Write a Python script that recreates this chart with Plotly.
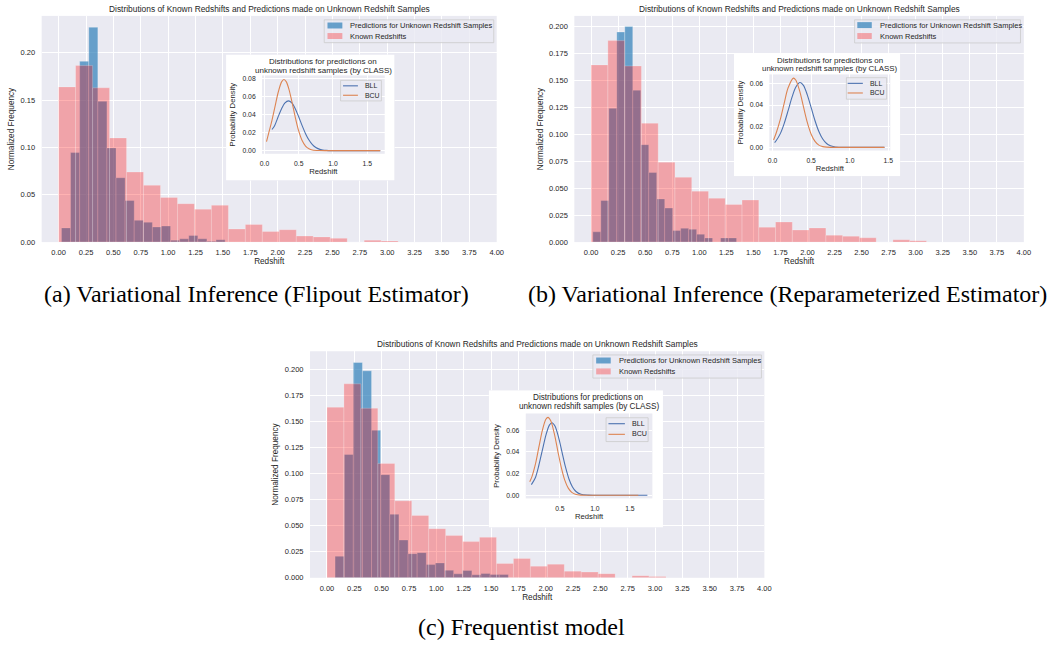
import plotly.graph_objects as go

W, H = 1048, 649
FONT = "Liberation Sans, Arial, sans-serif"
SERIF = "Liberation Serif, Times New Roman, serif"
TXT = "#262626"
BG = "#EAEAF2"

# ---------------- data ----------------
REDSHIFT_TICKS = [0.0, 0.25, 0.5, 0.75, 1.0, 1.25, 1.5, 1.75, 2.0, 2.25,
                  2.5, 2.75, 3.0, 3.25, 3.5, 3.75, 4.0]
INSET_X_TICKS = [0.0, 0.5, 1.0, 1.5]

KNOWN_BIN_START = 0.0
KNOWN_BIN_WIDTH = 0.155
KNOWN_FREQ = [0.164, 0.1865, 0.163, 0.110, 0.074, 0.060, 0.0472, 0.0406, 0.0348, 0.0389,
              0.0138, 0.0186, 0.0112, 0.0131, 0.0064, 0.0055, 0.0040, 0.0, 0.0021, 0.0013]

PRED_A_BIN_START = 0.026
PRED_A_BIN_WIDTH = 0.083
PRED_A_FREQ = [0.015, 0.0946, 0.191, 0.227, 0.1487, 0.0995, 0.068, 0.044, 0.023, 0.021,
               0.016, 0.017, 0.0021, 0.0035, 0.007, 0.0035, 0.001, 0.0024, 0.0, 0.0]

PRED_B_BIN_START = 0.016
PRED_B_BIN_WIDTH = 0.0738
PRED_B_FREQ = [0.0095, 0.0385, 0.1238, 0.1945, 0.1995, 0.1406, 0.0902, 0.0645, 0.040, 0.0315,
               0.0107, 0.0128, 0.0119, 0.0073, 0.0039, 0.0, 0.0039, 0.0039, 0.0, 0.0]

PRED_C_BIN_START = 0.074
PRED_C_BIN_WIDTH = 0.0834
PRED_C_FREQ = [0.0207, 0.1186, 0.207, 0.199, 0.1419, 0.0992, 0.0611, 0.0363, 0.0232, 0.0242,
               0.0127, 0.0143, 0.0073, 0.0038, 0.007, 0.0029, 0.0041, 0.0031, 0.0031, 0.0]

BLL_A_X = [0.11, 0.15, 0.20, 0.25, 0.30, 0.35, 0.40, 0.45, 0.50, 0.55, 0.60, 0.65, 0.70,
           0.75, 0.80, 0.85, 0.90, 1.00, 1.20, 1.45, 1.69]
BLL_A_Y = [0.0235, 0.0280, 0.0376, 0.0466, 0.0530, 0.0553, 0.0530, 0.0466, 0.0376, 0.0278,
           0.0189, 0.0118, 0.0067, 0.0035, 0.0017, 0.0008, 0.0003, 0.0, 0.0, 0.0, 0.0]
BCU_A_X = [0.03, 0.06, 0.10, 0.15, 0.20, 0.25, 0.285, 0.32, 0.36, 0.40, 0.45, 0.50, 0.55,
           0.60, 0.65, 0.70, 0.80, 0.90, 1.10, 1.40, 1.69]
BCU_A_Y = [0.0100, 0.0190, 0.0305, 0.0476, 0.0646, 0.0764, 0.0790, 0.0764, 0.0676, 0.0547,
           0.0371, 0.0219, 0.0112, 0.0050, 0.0020, 0.0007, 0.0001, 0.0, 0.0, 0.0, 0.0]

BLL_B_X = [0.026, 0.05, 0.10, 0.15, 0.20, 0.25, 0.30, 0.356, 0.40, 0.45, 0.50, 0.55, 0.60,
           0.65, 0.70, 0.75, 0.80, 0.90, 1.00, 1.20, 1.45]
BLL_B_Y = [0.0044, 0.0067, 0.0130, 0.0225, 0.0345, 0.0470, 0.0569, 0.0613, 0.0586, 0.0497,
           0.0376, 0.0252, 0.0150, 0.0079, 0.0037, 0.0016, 0.0006, 0.0001, 0.0, 0.0, 0.0]
BCU_B_X = [0.013, 0.05, 0.10, 0.15, 0.20, 0.27, 0.30, 0.35, 0.40, 0.45, 0.50, 0.55, 0.60,
           0.65, 0.70, 0.80, 0.90, 1.10, 1.45]
BCU_B_Y = [0.0070, 0.0143, 0.0264, 0.0417, 0.0561, 0.0655, 0.0637, 0.0536, 0.0385, 0.0236,
           0.0124, 0.0056, 0.0021, 0.0007, 0.0002, 0.0, 0.0, 0.0, 0.0]

BLL_C_X = [0.093, 0.15, 0.20, 0.25, 0.30, 0.35, 0.387, 0.43, 0.48, 0.53, 0.58, 0.63, 0.68,
           0.73, 0.80, 0.90, 1.00, 1.20, 1.50, 1.75]
BLL_C_Y = [0.0098, 0.0162, 0.0277, 0.0417, 0.0554, 0.0648, 0.0671, 0.0640, 0.0539, 0.0400,
           0.0261, 0.0150, 0.0076, 0.0034, 0.0009, 0.0001, 0.0, 0.0, 0.0, 0.0]
BCU_C_X = [0.07, 0.10, 0.15, 0.20, 0.25, 0.30, 0.33, 0.37, 0.42, 0.47, 0.52, 0.57, 0.62,
           0.67, 0.72, 0.80, 0.90, 1.10, 1.40, 1.62]
BCU_C_Y = [0.0125, 0.0170, 0.0285, 0.0444, 0.0600, 0.0702, 0.0720, 0.0688, 0.0571, 0.0411,
           0.0257, 0.0139, 0.0065, 0.0026, 0.0009, 0.0001, 0.0, 0.0, 0.0, 0.0]

MAIN_TITLE = "Distributions of Known Redshifts and Predictions made on Unknown Redshift Samples"
INSET_TITLE_1 = "Distributions for predictions on"
INSET_TITLE_2 = "unknown redshift samples (by CLASS)"
PRED_NAME = "Predictions for Unknown Redshift Samples"
KNOWN_NAME = "Known Redshifts"
CAPTIONS = ["(a) Variational Inference (Flipout Estimator)",
            "(b) Variational Inference (Reparameterized Estimator)",
            "(c) Frequentist model"]

BLUE_BAR = "rgba(31,119,180,0.65)"
PINK_BAR = "rgba(255,0,0,0.30)"
BLL_COLOR = "#4C72B0"
BCU_COLOR = "#DD8452"

# ---------------- layout geometry (pixels) ----------------
PANELS = [
    dict(main=(40, 499, 16, 244), yrange=[0, 0.239], ydtick=0.05, yfmt=".2f",
         pred=(PRED_A_BIN_START, PRED_A_BIN_WIDTH, PRED_A_FREQ),
         box=(226, 396, 55, 182), inset=(262.3, 386, 76, 155),
         ixr=[-0.035, 1.755], iyr=[-0.0035, 0.0836], iyticks=[0, 0.02, 0.04, 0.06, 0.08],
         curves=((BLL_A_X, BLL_A_Y), (BCU_A_X, BCU_A_Y)),
         title=(269.5, 9), ititle=(324, 62.3, 70.7, 8.0),
         leg=dict(box=(325, 496, 20, 43), patch=(328.3, 343.3), tx=349, ys=(25.7, 36.3)),
         ileg=dict(box=(341.5, 382.7, 81, 101.7), line=(344, 359), tx=364, ys=(86.5, 96), fs=6.9),
         caption=(257, 296)),
    dict(main=(577.3, 1030.7, 16, 244), yrange=[0, 0.2094], ydtick=0.025, yfmt=".3f",
         pred=(PRED_B_BIN_START, PRED_B_BIN_WIDTH, PRED_B_FREQ),
         box=(738.3, 906, 53.3, 177.7), inset=(774, 896, 75, 151.7),
         ixr=[-0.042, 1.526], iyr=[-0.003, 0.069], iyticks=[0, 0.02, 0.04, 0.06],
         curves=((BLL_B_X, BLL_B_Y), (BCU_B_X, BCU_B_Y)),
         title=(804, 9), ititle=(835, 61, 69.3, 7.9),
         leg=dict(box=(860, 1027.3, 20, 43.3), patch=(862.7, 877.3), tx=883.3, ys=(25.3, 36.3)),
         ileg=dict(box=(851.7, 892.3, 78.3, 100), line=(853, 868.3), tx=873.3, ys=(84, 93.7), fs=6.9),
         caption=(792, 296)),
    dict(main=(310.7, 769, 354, 582.3), yrange=[0, 0.2178], ydtick=0.025, yfmt=".3f",
         pred=(PRED_C_BIN_START, PRED_C_BIN_WIDTH, PRED_C_FREQ),
         box=(491, 666.7, 393.3, 531.7), inset=(528.3, 656, 416.7, 502.3),
         ixr=[0.013, 1.821], iyr=[-0.003, 0.0756], iyticks=[0, 0.02, 0.04, 0.06],
         curves=((BLL_C_X, BLL_C_Y), (BCU_C_X, BCU_C_Y)),
         title=(540, 347), ititle=(592, 401, 410, 8.2),
         leg=dict(box=(596, 766, 357.7, 381), patch=(599.3, 614), tx=620, ys=(363.3, 374.3)),
         ileg=dict(box=(609.3, 651.7, 421, 445), line=(611.7, 628.3), tx=633.3, ys=(427, 437.7), fs=7.1),
         caption=(524.5, 632)),
]


def fx(p):
    return p / W


def fy(p):
    return 1 - p / H


def ax_key(kind, n):
    return kind + ("axis" if n == 1 else "axis%d" % n)


def ref(kind, n):
    return kind if n == 1 else "%s%d" % (kind, n)


fig = go.Figure()
layout = {}
shapes = []
annotations = []


def add_text(text, x, y, size, color=TXT, family=FONT, xanchor="center"):
    annotations.append(dict(text=text, x=fx(x), y=fy(y), xref="paper", yref="paper",
                            showarrow=False, xanchor=xanchor, yanchor="middle",
                            font=dict(family=family, size=size, color=color)))


def rect(x0, x1, y0, y1, fill, line_color=None, line_width=0):
    shapes.append(dict(type="rect", xref="paper", yref="paper", layer="above",
                       x0=fx(x0), x1=fx(x1), y0=fy(y1), y1=fy(y0), fillcolor=fill,
                       line=dict(color=line_color or "rgba(0,0,0,0)", width=line_width)))


# main panels first, then white boxes, then insets (drawing order)
for i, P in enumerate(PANELS, start=1):
    L, R, T, B = P["main"]
    start, width, freq = P["pred"]
    pred_left = [start + k * width for k in range(len(freq))]
    known_left = [KNOWN_BIN_START + k * KNOWN_BIN_WIDTH for k in range(len(KNOWN_FREQ))]
    fig.add_trace(go.Bar(x=pred_left, y=freq, width=[width] * len(freq), offset=0,
                         name=PRED_NAME, marker=dict(color=BLUE_BAR,
                                                     line=dict(color="rgba(255,255,255,0.45)", width=0.6)),
                         xaxis=ref("x", i), yaxis=ref("y", i), showlegend=False))
    fig.add_trace(go.Bar(x=known_left, y=KNOWN_FREQ, width=[KNOWN_BIN_WIDTH] * len(KNOWN_FREQ), offset=0,
                         name=KNOWN_NAME, marker=dict(color=PINK_BAR,
                                                      line=dict(color="rgba(255,255,255,0.35)", width=0.6)),
                         xaxis=ref("x", i), yaxis=ref("y", i), showlegend=False))
    layout[ax_key("x", i)] = dict(
        domain=[fx(L), fx(R)], anchor=ref("y", i), range=[-0.155, 4.0],
        tickvals=REDSHIFT_TICKS, tickformat=".2f", showgrid=True, gridcolor="white", gridwidth=1,
        zeroline=False, showline=False, ticks="outside", ticklen=3, tickcolor="rgba(0,0,0,0)",
        tickfont=dict(family=FONT, size=7.5, color=TXT),
        title=dict(text="Redshift", font=dict(family=FONT, size=8.2, color=TXT), standoff=1))
    layout[ax_key("y", i)] = dict(
        domain=[fy(B), fy(T)], anchor=ref("x", i), range=P["yrange"], tick0=0, dtick=P["ydtick"],
        tickformat=P["yfmt"], showgrid=True, gridcolor="white", gridwidth=1, zeroline=False,
        showline=False, ticks="outside", ticklen=4, tickcolor="rgba(0,0,0,0)",
        tickfont=dict(family=FONT, size=7.5, color=TXT),
        title=dict(text="Normalized Frequency", font=dict(family=FONT, size=8.2, color=TXT), standoff=4))
    add_text(MAIN_TITLE, P["title"][0], P["title"][1], 8.4)
    lg = P["leg"]
    bx0, bx1, by0, by1 = lg["box"]
    rect(bx0, bx1, by0, by1, "rgba(234,234,242,0.8)", "#CCCCCC", 0.8)
    rect(lg["patch"][0], lg["patch"][1], lg["ys"][0] - 3, lg["ys"][0] + 3, BLUE_BAR)
    rect(lg["patch"][0], lg["patch"][1], lg["ys"][1] - 3, lg["ys"][1] + 3, PINK_BAR)
    add_text(PRED_NAME, lg["tx"], lg["ys"][0], 7.5, xanchor="left")
    add_text(KNOWN_NAME, lg["tx"], lg["ys"][1], 7.5, xanchor="left")
    add_text(CAPTIONS[i - 1], P["caption"][0], P["caption"][1], 24, color="black", family=SERIF)

for i, P in enumerate(PANELS, start=1):
    n = i + 3
    x0, x1, y0, y1 = P["box"]
    fig.add_trace(go.Scatter(x=[0, 1, 1, 0, 0], y=[0, 0, 1, 1, 0], mode="lines", fill="toself",
                             fillcolor="white", line=dict(width=0, color="white"), hoverinfo="skip",
                             showlegend=False, xaxis=ref("x", n), yaxis=ref("y", n)))
    layout[ax_key("x", n)] = dict(domain=[fx(x0), fx(x1)], anchor=ref("y", n), range=[0, 1], visible=False)
    layout[ax_key("y", n)] = dict(domain=[fy(y1), fy(y0)], anchor=ref("x", n), range=[0, 1], visible=False)

for i, P in enumerate(PANELS, start=1):
    n = i + 6
    x0, x1, y0, y1 = P["inset"]
    (bx, by), (cx, cy) = P["curves"]
    fig.add_trace(go.Scatter(x=bx, y=by, mode="lines", name="BLL",
                             line=dict(color=BLL_COLOR, width=1.1, shape="spline", smoothing=0.8),
                             showlegend=False, xaxis=ref("x", n), yaxis=ref("y", n)))
    fig.add_trace(go.Scatter(x=cx, y=cy, mode="lines", name="BCU",
                             line=dict(color=BCU_COLOR, width=1.1, shape="spline", smoothing=0.8),
                             showlegend=False, xaxis=ref("x", n), yaxis=ref("y", n)))
    layout[ax_key("x", n)] = dict(
        domain=[fx(x0), fx(x1)], anchor=ref("y", n), range=P["ixr"], tickvals=INSET_X_TICKS,
        tickformat=".1f", showgrid=True, gridcolor="white", gridwidth=1, zeroline=False, showline=False,
        ticks="outside", ticklen=3, tickcolor="rgba(0,0,0,0)", tickfont=dict(family=FONT, size=6.8, color=TXT),
        title=dict(text="Redshift", font=dict(family=FONT, size=7.7, color=TXT), standoff=1))
    layout[ax_key("y", n)] = dict(
        domain=[fy(y1), fy(y0)], anchor=ref("x", n), range=P["iyr"], tickvals=P["iyticks"],
        tickformat=".2f", showgrid=True, gridcolor="white", gridwidth=1, zeroline=False, showline=False,
        ticks="outside", ticklen=4, tickcolor="rgba(0,0,0,0)", tickfont=dict(family=FONT, size=6.8, color=TXT),
        title=dict(text="Probability Density", font=dict(family=FONT, size=7.7, color=TXT), standoff=5))
    tx, ty1, ty2, tfs = P["ititle"]
    add_text(INSET_TITLE_1, tx, ty1, tfs)
    add_text(INSET_TITLE_2, tx, ty2, tfs)
    lg = P["ileg"]
    bx0, bx1, by0, by1 = lg["box"]
    rect(bx0, bx1, by0, by1, "rgba(234,234,242,0.8)", "#CCCCCC", 0.8)
    for yy, col, nm in ((lg["ys"][0], BLL_COLOR, "BLL"), (lg["ys"][1], BCU_COLOR, "BCU")):
        shapes.append(dict(type="line", xref="paper", yref="paper", layer="above",
                           x0=fx(lg["line"][0]), x1=fx(lg["line"][1]), y0=fy(yy), y1=fy(yy),
                           line=dict(color=col, width=1.1)))
        add_text(nm, lg["tx"], yy, lg["fs"], xanchor="left")

fig.update_layout(
    width=W, height=H, autosize=False, margin=dict(l=0, r=0, t=0, b=0),
    paper_bgcolor="white", plot_bgcolor=BG, barmode="overlay", showlegend=False,
    font=dict(family=FONT, color=TXT), shapes=shapes, annotations=annotations, **layout)

fig.write_html("out.html", config={"displayModeBar": False},
               post_script="document.body.style.margin='0';document.body.style.padding='0';"
                           "document.body.style.overflow='hidden';")
